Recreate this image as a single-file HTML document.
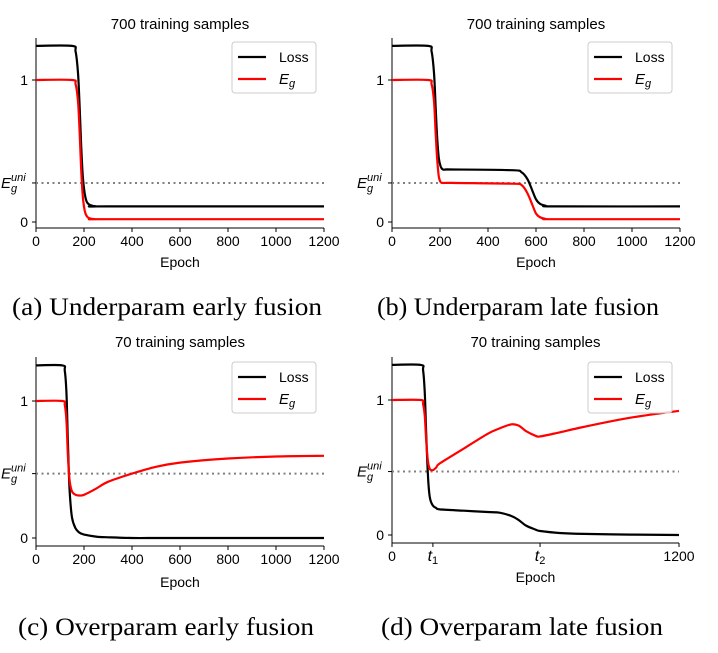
<!DOCTYPE html>
<html><head><meta charset="utf-8">
<style>
html,body{margin:0;padding:0;background:#fff;}
svg text{font-family:"Liberation Sans","DejaVu Sans",sans-serif;}
.cap{font-family:"Liberation Serif",serif;font-size:25px;}
</style></head>
<body>
<svg id="fig" width="718" height="648" viewBox="0 0 718 648" xmlns="http://www.w3.org/2000/svg">
</svg>
<script>
// Panel (a) Underparam early fusion
const epochsA = [0,150,165,175,182,188,195,203,212,225,250,300,1200];
const lossA   = [1.24,1.24,1.2,1.05,0.8,0.55,0.32,0.2,0.14,0.12,0.11,0.11,0.11];
const egA     = [1,1,0.97,0.85,0.62,0.38,0.18,0.08,0.04,0.025,0.02,0.02,0.02];
// Panel (b) Underparam late fusion
const epochsB = [0,150,165,175,182,188,195,203,212,225,250,500,540,565,585,600,615,640,680,1200];
const lossB   = [1.24,1.24,1.2,1.05,0.8,0.6,0.45,0.39,0.37,0.37,0.37,0.365,0.35,0.3,0.22,0.16,0.13,0.115,0.11,0.11];
const egB     = [1,1,0.97,0.85,0.62,0.45,0.32,0.28,0.275,0.275,0.275,0.27,0.26,0.2,0.12,0.06,0.035,0.022,0.02,0.02];
// Panel (c) Overparam early fusion
const epochsC = [0,110,120,127,133,140,150,165,180,200,250,300,400,500,600,800,1000,1200];
const lossC   = [1.26,1.26,1.22,1.05,0.7,0.35,0.15,0.07,0.04,0.025,0.01,0.005,0,0,0,0,0,0];
const egC     = [1,1,0.97,0.85,0.6,0.42,0.34,0.315,0.31,0.315,0.36,0.41,0.47,0.52,0.55,0.58,0.595,0.6];
// Panel (d) Overparam late fusion
const epochsD = [0,120,130,137,143,150,158,170,185,200,300,400,450,500,530,560,600,620,700,800,1000,1200];
const lossD   = [1.26,1.26,1.22,1.05,0.75,0.45,0.28,0.22,0.2,0.19,0.18,0.17,0.165,0.14,0.11,0.07,0.04,0.03,0.015,0.008,0.003,0];
const egD     = [1,1,0.97,0.88,0.7,0.55,0.49,0.48,0.5,0.53,0.64,0.75,0.79,0.82,0.81,0.77,0.735,0.73,0.76,0.8,0.87,0.92];
const eUni = [0.275,0.275,0.47,0.47];
const xTicks = ['0','200','400','600','800','1000','1200'];
const xTickVals = [0,200,400,600,800,1000,1200];

const svg = document.getElementById('fig');
const NS='http://www.w3.org/2000/svg';
function mk(tag, attrs, parent){const e=document.createElementNS(NS,tag);for(const k in attrs)e.setAttribute(k,attrs[k]);(parent||svg).appendChild(e);return e;}

const panels = [
 {id:'a',x0:36,x1:324,y0:222,y1:80,top:38,bottom:228,ep:epochsA,loss:lossA,eg:egA,eu:eUni[0],title:'700 training samples',titleY:29,epY:267,cap:'(a) Underparam early fusion',capY:315,capX:167,capW:310,lx:232,ly:42},
 {id:'b',x0:392,x1:680,y0:222,y1:80,top:38,bottom:228,ep:epochsB,loss:lossB,eg:egB,eu:eUni[1],title:'700 training samples',titleY:29,epY:267,cap:'(b) Underparam late fusion',capY:315,capX:518,capW:282,lx:588,ly:42},
 {id:'c',x0:36,x1:324,y0:538,y1:401,top:357,bottom:546,ep:epochsC,loss:lossC,eg:egC,eu:eUni[2],title:'70 training samples',titleY:347,epY:587,cap:'(c) Overparam early fusion',capY:635,capX:166,capW:296,lx:232,ly:362},
 {id:'d',x0:392,x1:679,y0:535,y1:400,top:357,bottom:543,ep:epochsD,loss:lossD,eg:egD,eu:eUni[3],title:'70 training samples',titleY:347,epY:582,cap:'(d) Overparam late fusion',capY:635,capX:522,capW:282,lx:588,ly:362,special:true},
];

function smooth(pts){
  let d='M'+pts[0][0].toFixed(1)+','+pts[0][1].toFixed(1);
  for(let i=0;i<pts.length-1;i++){
    const p0=pts[Math.max(0,i-1)],p1=pts[i],p2=pts[i+1],p3=pts[Math.min(pts.length-1,i+2)];
    const k=0.16;
    const c1=[p1[0]+(p2[0]-p0[0])*k,p1[1]+(p2[1]-p0[1])*k];
    const c2=[p2[0]-(p3[0]-p1[0])*k,p2[1]-(p3[1]-p1[1])*k];
    d+=' C'+c1[0].toFixed(1)+','+c1[1].toFixed(1)+' '+c2[0].toFixed(1)+','+c2[1].toFixed(1)+' '+p2[0].toFixed(1)+','+p2[1].toFixed(1);
  }
  return d;
}

panels.forEach(p=>{
  const g=mk('g',{});
  
  
  const X=v=>p.x0+(v/1200)*(p.x1-p.x0);
  const Y=v=>p.y0-v*(p.y0-p.y1);
  const t=mk('text',{x:(p.x0+p.x1)/2,y:p.titleY,'text-anchor':'middle','font-size':'15'},g);
  t.textContent=p.title;
  
  
  const ls=mk('line',{x1:p.x0,y1:p.top,x2:p.x0,y2:p.bottom,stroke:'#000','stroke-width':1},g);
  
  
  const bs=mk('line',{x1:p.x0,y1:p.bottom,x2:p.x1,y2:p.bottom,stroke:'#000','stroke-width':1},g);
  
  
  let ticks = p.special ? [[0,'0'],[171,'t1'],[619,'t2'],[1200,'1200']] : xTickVals.map((v,i)=>[v,xTicks[i]]);
  ticks.forEach(([v,l])=>{
    mk('line',{x1:X(v),y1:p.bottom,x2:X(v),y2:p.bottom+4,stroke:'#000'},g);
    const tx=mk('text',{x:X(v),y:p.bottom+18,'text-anchor':'middle','font-size':'14'},g);
    
    
    if(l[0]==='t'){tx.setAttribute('font-style','italic');tx.setAttribute('font-family','Liberation Serif, serif');tx.setAttribute('font-size','16');tx.textContent='t';const s=mk('tspan',{'font-size':'11',dy:'3','font-style':'normal','font-family':'Liberation Sans, sans-serif'},tx);s.textContent=l[1];}
    else tx.textContent=l;
  });
  const ex=mk('text',{x:(p.x0+p.x1)/2,y:p.epY,'text-anchor':'middle','font-size':'14'},g);
  ex.textContent='Epoch';
  
  
  [[0,'0'],[1,'1']].forEach(([v,l])=>{
    mk('line',{x1:p.x0-4,y1:Y(v),x2:p.x0,y2:Y(v),stroke:'#000'},g);
    const ty=mk('text',{x:p.x0-8,y:Y(v)+5,'text-anchor':'end','font-size':'14'},g);
    ty.textContent=l;
    
    
  });
  mk('line',{x1:p.x0-4,y1:Y(p.eu),x2:p.x0,y2:Y(p.eu),stroke:'#000'},g);
  const eu=mk('text',{x:p.x0-35,y:Y(p.eu)+5,'font-size':'15','font-style':'italic'},g);
  
  
  eu.textContent='E';
  const s1=mk('tspan',{'font-size':'11',dy:'-7'},eu);s1.textContent='uni';
  const s2=mk('tspan',{'font-size':'11',x:p.x0-25,dy:'11'},eu);s2.textContent='g';
  const dl=mk('line',{x1:p.x0,y1:Y(p.eu),x2:p.x1,y2:Y(p.eu),stroke:'#808080','stroke-width':2,'stroke-dasharray':'2,3.5'},g);
  
  
  const pts=arr=>arr.map((v,i)=>[X(p.ep[i]),Y(v)]);
  const lp=mk('path',{d:smooth(pts(p.loss)),fill:'none',stroke:'#000','stroke-width':2.2,'stroke-linejoin':'round'},g);
  
  
  const ep=mk('path',{d:smooth(pts(p.eg)),fill:'none',stroke:'#f00','stroke-width':2.2,'stroke-linejoin':'round'},g);
  
  
  const lg=mk('g',{},g);
  
  
  mk('rect',{x:p.lx,y:p.ly,width:84,height:51,rx:3,fill:'#fff','fill-opacity':0.8,stroke:'#ccc'},lg);
  mk('line',{x1:p.lx+6,y1:p.ly+15,x2:p.lx+34,y2:p.ly+15,stroke:'#000','stroke-width':2.2},lg);
  mk('line',{x1:p.lx+6,y1:p.ly+37,x2:p.lx+34,y2:p.ly+37,stroke:'#f00','stroke-width':2.2},lg);
  const l1=mk('text',{x:p.lx+47,y:p.ly+20,'font-size':'14'},lg);l1.textContent='Loss';
  
  
  const l2=mk('text',{x:p.lx+47,y:p.ly+42,'font-size':'15','font-style':'italic'},lg);l2.textContent='E';
  
  
  const l2s=mk('tspan',{'font-size':'11',dy:'3'},l2);l2s.textContent='g';
  const c=mk('text',{x:p.capX,y:p.capY,'text-anchor':'middle','class':'cap',textLength:p.capW,lengthAdjust:'spacingAndGlyphs'},g);
  c.textContent=p.cap;
  
  
});
</script>
</body></html>
